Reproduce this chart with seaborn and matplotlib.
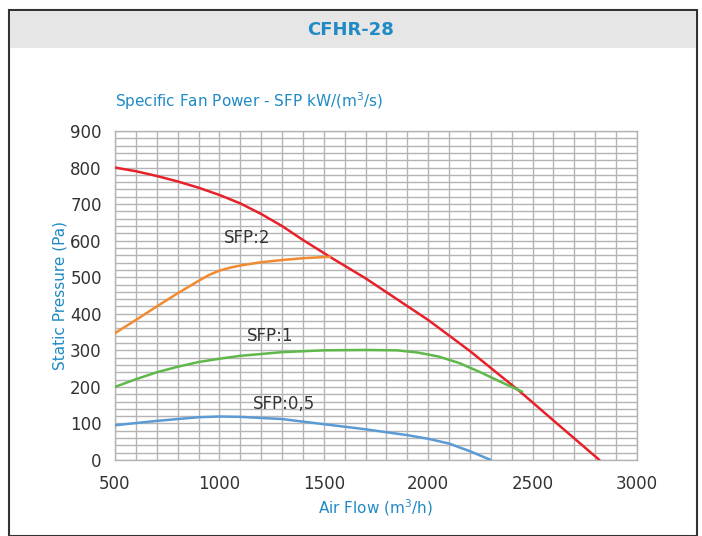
import matplotlib
matplotlib.use("Agg")
import matplotlib.pyplot as plt
import seaborn as sns
import pandas as pd
from matplotlib.patches import Rectangle

# ---- data ----
fan_x = [500, 600, 700, 800, 900, 1000, 1100, 1200, 1300, 1400, 1540, 1700, 1850, 2000, 2200, 2440, 2600, 2820]
fan_y = [800, 790, 777, 762, 745, 725, 702, 673, 640, 602, 552, 497, 440, 383, 298, 187, 108, 0]

sfp2_x = [500, 600, 700, 800, 900, 950, 1000, 1050, 1100, 1200, 1300, 1400, 1530]
sfp2_y = [347, 383, 420, 456, 490, 506, 518, 526, 532, 541, 547, 552, 556]

sfp1_x = [500, 600, 700, 800, 900, 1000, 1100, 1300, 1500, 1700, 1850, 1950, 2050, 2150, 2250, 2350, 2450]
sfp1_y = [200, 221, 240, 255, 268, 277, 285, 295, 300, 301, 300, 294, 283, 265, 240, 213, 187]

sfp05_x = [500, 700, 900, 1000, 1100, 1300, 1500, 1700, 1900, 2000, 2100, 2200, 2300]
sfp05_y = [95, 107, 117, 119, 118, 112, 98, 84, 68, 58, 45, 24, 0]

x_ticks = [500, 1000, 1500, 2000, 2500, 3000]
y_ticks = [0, 100, 200, 300, 400, 500, 600, 700, 800, 900]

labels = ["SFP:2", "SFP:1", "SFP:0,5"]
label_pos_x = [1132, 1242, 1310]
label_pos_y = [607, 338, 152]

title = "CFHR-28"
subtitle = "Specific Fan Power - SFP kW/(m$^3$/s)"
xlabel = "Air Flow (m$^3$/h)"
ylabel = "Static Pressure (Pa)"

# ---- plot ----
sns.set_style("white")
plt.rcParams['font.family'] = ['DejaVu Sans']

BLUE = "#1f8ac4"
fig = plt.figure(figsize=(7.02, 5.36), dpi=100)
ax = fig.add_axes([115/702, 76/536, 522/702, 329/536])

# frame + header
fig.patches.append(Rectangle((9/702, 0), 688/702, 526/536, transform=fig.transFigure,
                             fill=False, edgecolor="#333333", linewidth=1.5, zorder=0))
fig.patches.append(Rectangle((10/702, 488/536), 686/702, 37/536, transform=fig.transFigure,
                             facecolor="#e6e6e6", edgecolor="none", zorder=0))
fig.text(351/702, 1 - 30/536, title, color=BLUE, fontsize=13, fontweight="bold",
         ha="center", va="center")
fig.text(115/702, 1 - 101/536, subtitle, color=BLUE, fontsize=11, ha="left", va="center")

series = [
    (fan_x, fan_y, "#e8202a"),
    (sfp2_x, sfp2_y, "#f28a30"),
    (sfp1_x, sfp1_y, "#5fb84a"),
    (sfp05_x, sfp05_y, "#5b9bd5"),
]
for xs, ys, c in series:
    df = pd.DataFrame({"x": xs, "y": ys})
    sns.lineplot(data=df, x="x", y="y", ax=ax, color=c, linewidth=1.8, sort=False,
                 zorder=3)

for t, lx, ly in zip(labels, label_pos_x, label_pos_y):
    ax.text(lx, ly, t, color="#333333", fontsize=12, ha="center", va="center", zorder=4)

ax.set_xlim(500, 3000)
ax.set_ylim(0, 900)
ax.set_xticks(x_ticks)
ax.set_yticks(y_ticks)
ax.set_xticks(range(500, 3001, 100), minor=True)
ax.set_yticks(range(0, 901, 20), minor=True)
ax.grid(which="both", color="#b4b4b4", linewidth=1.0, zorder=0)
ax.set_axisbelow(True)
for s in ax.spines.values():
    s.set_color("#b4b4b4")
    s.set_linewidth(1.0)
ax.tick_params(axis="both", which="major", length=6, width=1, color="#b4b4b4",
               labelsize=12, labelcolor="#333333", direction="out")
ax.tick_params(axis="both", which="minor", length=0)
ax.tick_params(axis="x", pad=5)
ax.set_xlabel(xlabel, color=BLUE, fontsize=11, labelpad=3)
ax.set_ylabel(ylabel, color=BLUE, fontsize=11, labelpad=2)

fig.savefig("out.png", dpi=100)
